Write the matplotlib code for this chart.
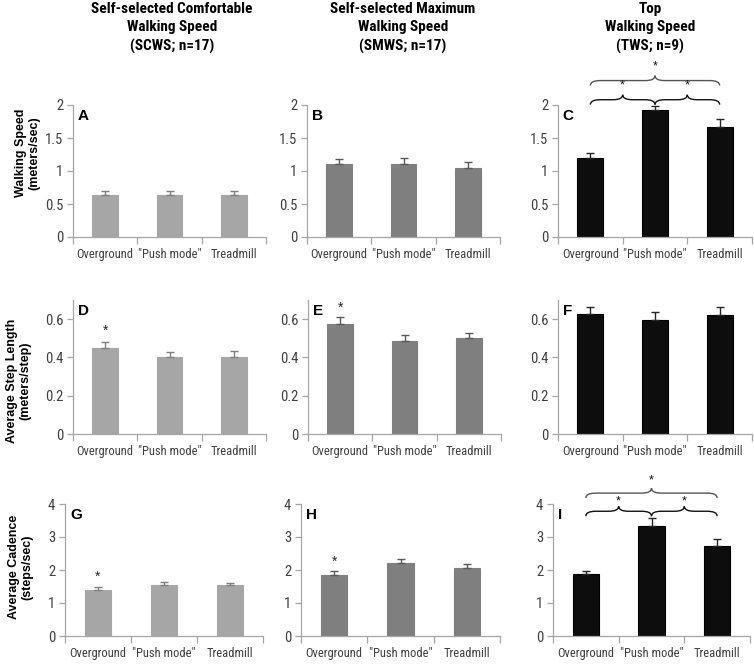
import matplotlib
matplotlib.use("Agg")
import matplotlib.pyplot as plt
from matplotlib.path import Path
from matplotlib.patches import PathPatch
from matplotlib.ticker import FuncFormatter, FixedLocator
from matplotlib import font_manager
import numpy as np

# ---------------- data ----------------
categories = ["Overground", "\"Push mode\"", "Treadmill"]
column_titles = ["Self-selected Comfortable\nWalking Speed\n(SCWS; n=17)",
                 "Self-selected Maximum\nWalking Speed\n(SMWS; n=17)",
                 "Top\nWalking Speed\n(TWS; n=9)"]
row_labels = ["Walking Speed\n(meters/sec)",
              "Average Step Length\n(meters/step)",
              "Average Cadence\n(steps/sec)"]
panel_letters = [["A", "B", "C"], ["D", "E", "F"], ["G", "H", "I"]]

# walking speed (m/s)
speed_scws = [0.64, 0.63, 0.64]
speed_scws_err = [0.06, 0.06, 0.06]
speed_smws = [1.10, 1.10, 1.05]
speed_smws_err = [0.08, 0.10, 0.09]
speed_tws = [1.19, 1.92, 1.67]
speed_tws_err = [0.09, 0.07, 0.12]

# step length (m/step)
step_scws = [0.45, 0.40, 0.40]
step_scws_err = [0.028, 0.028, 0.032]
step_smws = [0.576, 0.485, 0.499]
step_smws_err = [0.034, 0.030, 0.031]
step_tws = [0.626, 0.595, 0.621]
step_tws_err = [0.037, 0.043, 0.042]

# cadence (steps/s)
cad_scws = [1.40, 1.56, 1.56]
cad_scws_err = [0.09, 0.08, 0.06]
cad_smws = [1.86, 2.21, 2.06]
cad_smws_err = [0.10, 0.13, 0.11]
cad_tws = [1.88, 3.34, 2.73]
cad_tws_err = [0.09, 0.23, 0.21]

values = [[speed_scws, speed_smws, speed_tws],
          [step_scws, step_smws, step_tws],
          [cad_scws, cad_smws, cad_tws]]
errors = [[speed_scws_err, speed_smws_err, speed_tws_err],
          [step_scws_err, step_smws_err, step_tws_err],
          [cad_scws_err, cad_smws_err, cad_tws_err]]

y_limits = [2.0, 0.7, 4.0]
y_ticks = [[0, 0.5, 1, 1.5, 2], [0, 0.2, 0.4, 0.6], [0, 1, 2, 3, 4]]

# single asterisk above Overground bar: (row, col) -> star y
single_stars = {(1, 0): 0.54, (1, 1): 0.66, (2, 0): 1.79, (2, 1): 2.24}
# braces (row, col) -> (lower level, lower star, upper level, upper star, tip)
brace_specs = {(0, 2): (2.08, 2.29, 2.37, 2.59, 0.075),
               (2, 2): (3.78, 4.07, 4.33, 4.70, 0.15)}

# ---------------- style ----------------
bar_colors = ["#a6a6a6", "#7f7f7f", "#0d0d0d"]
edge_colors = ["#a6a6a6", "#7f7f7f", "#000000"]
err_colors = ["#7f7f7f", "#595959", "#262626"]
spine_color = "#a6a6a6"
text_color = "#404040"

available = {f.name for f in font_manager.fontManager.ttflist}
narrow_candidates = ["Roboto Condensed", "Liberation Sans Narrow",
                     "DejaVu Sans Condensed", "Open Sans Condensed"]
narrow = next((n for n in narrow_candidates if n in available), None)
if narrow is not None:
    tick_font = [narrow, "DejaVu Sans"]
    tick_x_size, tick_y_size, title_size = 9.0, 10.5, 11
else:
    tick_font = ["Liberation Sans", "DejaVu Sans"]
    tick_x_size, tick_y_size, title_size = 8.0, 9.5, 9.5
bold_font = ["Liberation Sans", "DejaVu Sans"]
title_font = tick_font if narrow is not None else bold_font

W, H = 754, 667
fig = plt.figure(figsize=(W / 100, H / 100), dpi=100)

# axes pixel boxes (left, right, top, bottom)
col_boxes = [[(73, 266), (307, 500), (558, 752)],
             [(73, 266), (308, 501), (558, 752)],
             [(65, 263), (301, 500), (553, 750)]]
row_boxes = [(105, 237), (300, 434), (504, 636)]


def brace(ax, x0, x1, y, tip, color, lw=1.0, q=0.12):
    xm = (x0 + x1) / 2.0
    verts = [(x0, y - tip), (x0, y), (x0 + q, y),
             (xm - q, y), (xm, y), (xm, y + tip),
             (xm, y), (xm + q, y),
             (x1 - q, y), (x1, y), (x1, y - tip)]
    codes = [Path.MOVETO, Path.CURVE3, Path.CURVE3,
             Path.LINETO, Path.CURVE3, Path.CURVE3,
             Path.CURVE3, Path.CURVE3,
             Path.LINETO, Path.CURVE3, Path.CURVE3]
    p = PathPatch(Path(verts, codes), facecolor="none", edgecolor=color,
                  lw=lw, clip_on=False)
    ax.add_patch(p)


x = np.arange(len(categories))
for r in range(3):
    top, bot = row_boxes[r]
    for c in range(3):
        left, right = col_boxes[r][c]
        ax = fig.add_axes([left / W, 1 - bot / H, (right - left) / W, (bot - top) / H])
        ax.bar(x, values[r][c], width=0.4, color=bar_colors[c],
               edgecolor=edge_colors[c], linewidth=0.8, zorder=2)
        errs = errors[r][c]
        ax.errorbar(x, values[r][c], yerr=[np.zeros(3), errs], fmt="none",
                    ecolor=err_colors[c], elinewidth=1.0, capsize=3,
                    capthick=1.0, zorder=3)
        ax.set_xlim(-0.5, 2.5)
        ax.set_ylim(0, y_limits[r])
        for s in ["top", "right"]:
            ax.spines[s].set_visible(False)
        for s in ["left", "bottom"]:
            ax.spines[s].set_color(spine_color)
            ax.spines[s].set_linewidth(0.9)
        ax.yaxis.set_major_locator(FixedLocator(y_ticks[r]))
        ax.yaxis.set_major_formatter(FuncFormatter(lambda v, p: "%g" % v))
        ax.set_xticks([-0.5, 0.5, 1.5, 2.5])
        ax.set_xticklabels([])
        ax.set_xticks(x, minor=True)
        ax.set_xticklabels(categories, minor=True)
        ax.tick_params(axis="x", which="major", length=5, color=spine_color,
                       direction="out", width=0.9)
        ax.tick_params(axis="x", which="minor", length=0, pad=8,
                       labelsize=tick_x_size, labelcolor=text_color)
        ax.tick_params(axis="y", length=4, color=spine_color, width=0.9,
                       labelsize=tick_y_size, labelcolor=text_color, pad=3)
        for lab in ax.get_xticklabels(minor=True) + ax.get_yticklabels():
            lab.set_family(tick_font)
        ax.text(0.025, 0.97, panel_letters[r][c], transform=ax.transAxes,
                ha="left", va="top", fontsize=11, fontweight="bold",
                family=bold_font, color="black")
        if (r, c) in single_stars:
            ax.text(0, single_stars[(r, c)], "*", ha="center", va="center",
                    fontsize=10, color="#222222", family=bold_font)
        if (r, c) in brace_specs:
            lo, lo_star, hi, hi_star, tip = brace_specs[(r, c)]
            brace(ax, x[0], x[1], lo, tip, "#111111", q=0.15)
            brace(ax, x[1], x[2], lo, tip, "#111111", q=0.15)
            brace(ax, x[0], x[2], hi, tip, "#555555", q=0.15)
            for sx, sy in [((x[0] + x[1]) / 2, lo_star),
                           ((x[1] + x[2]) / 2, lo_star),
                           (x[1], hi_star)]:
                ax.text(sx, sy, "*", ha="center", va="center", fontsize=9,
                        color="#111111", clip_on=False, family=bold_font)

# column titles
title_centers = [172, 403, 650]
for c in range(3):
    fig.text(title_centers[c] / W, 1 - 28 / H, column_titles[c], ha="center",
             va="center", fontsize=title_size, fontweight="bold", family=title_font,
             linespacing=1.4, color="black")

# row labels
label_pos = [(28, 153), (19, 381), (21, 567)]
for r in range(3):
    px, py = label_pos[r]
    fig.text(px / W, 1 - py / H, row_labels[r], rotation=90, ha="center",
             va="center", fontsize=9, fontweight="bold", family=bold_font,
             multialignment="center", linespacing=1.15, color="black")

fig.savefig("out.png", dpi=100)
